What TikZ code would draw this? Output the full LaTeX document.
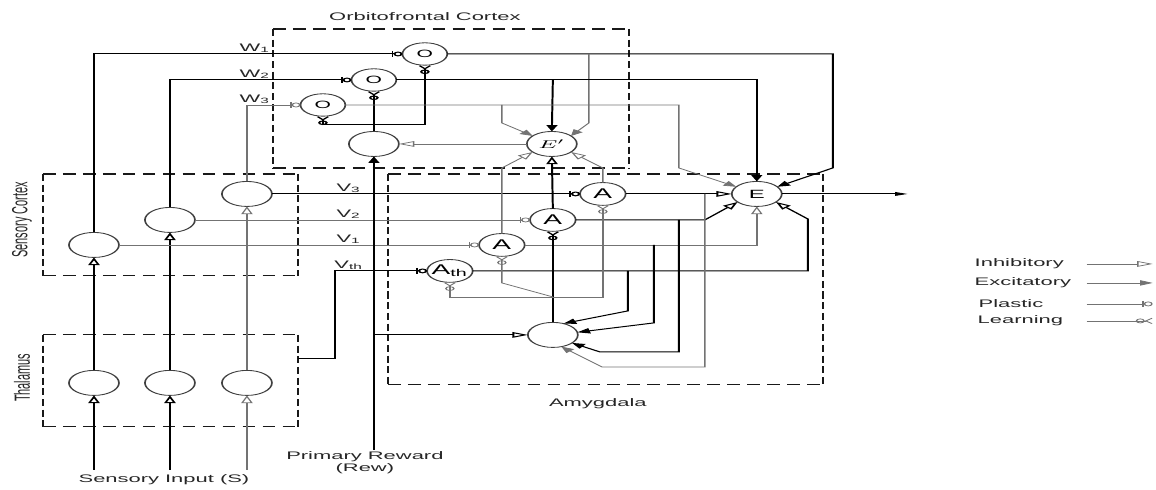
\documentclass[tikz,border=0pt]{standalone}
\usepackage{fontspec}
\setmainfont{Liberation Sans}
\usetikzlibrary{arrows.meta}
\begin{document}
\begin{tikzpicture}[every node/.style={inner sep=0pt, outer sep=0pt}]
\useasboundingbox (0,0) rectangle (28.9cm,-12.25cm);
\begin{scope}[x=0.0125cm, y=-0.025cm, transform canvas={xscale=2},
  neu/.style={circle, draw=black!75, line width=0.6pt, minimum size=0.625cm, inner sep=0pt},
  neuO/.style={neu, minimum size=0.56cm, font=\fontsize{7.5}{8}\selectfont},
  neuA/.style={neu, minimum size=0.57cm, font=\fontsize{10}{11}\selectfont},
  bk/.style={draw=black, line width=0.7pt},
  gy/.style={draw=black!55, line width=0.5pt},
  inh/.style={-{Triangle[open,length=5.5pt,width=4pt]}},
  exc/.style={-{Triangle[length=4.5pt,width=3.8pt]}},
  pla/.style={-{Bar[width=4.5pt]Circle[open,length=3.2pt,width=3.4pt]}},
  lrn/.style={-{Circle[open,length=3.2pt,width=3.4pt]Straight Barb[reversed,length=2.2pt,width=3.8pt]}},
  box/.style={draw=black!90, line width=0.8pt},
  hd/.style={dash pattern=on 4.5pt off 2.6pt},
  vd/.style={dash pattern=on 5pt off 2.6pt},
  lbl/.style={font=\fontsize{7.8}{8.6}\selectfont, text=black!85},
]
% boxes (horizontal and vertical edges dashed separately)
\draw[box,hd] (273,29) -- (629,29) (273,168) -- (629,168);
\draw[box,vd] (273,29) -- (273,168) (629,29) -- (629,168);
\draw[box,hd] (43,174) -- (298,174) (43,276) -- (298,276);
\draw[box,vd] (43,174) -- (43,276) (298,174) -- (298,276);
\draw[box,hd] (43,335) -- (298,335) (43,427) -- (298,427);
\draw[box,vd] (43,335) -- (43,427) (298,335) -- (298,427);
\draw[box,hd] (388,174) -- (823,174) (388,385) -- (823,385);
\draw[box,vd] (388,174) -- (388,385) (823,174) -- (823,385);
% titles
\node[lbl] (tofc) at (425,17) {Orbitofrontal Cortex};
\node[lbl, rotate=90] (tsc) at (22,220) {Sensory Cortex};
\node[lbl, rotate=90] (tth) at (22,378) {Thalamus};
\node[lbl] (tam) at (598,404) {Amygdala};
\node[lbl, align=center] (trew) at (365,463) {Primary Reward\\(Rew)};
\node[lbl] (tin) at (164,480) {Sensory Input (S)};
% neurons
\node[neuO] (O1) at (425,54) {O};
\node[neuO] (O2) at (374,80) {O};
\node[neuO] (O3) at (323,105) {O};
\node[neu] (ofc) at (374,144) {};
\node[neu, font=\fontsize{8.5}{9}\selectfont] (Ep) at (552,144) {$E'$};
\node[neu] (S1) at (94,245) {};
\node[neu] (S2) at (170,220) {};
\node[neu] (S3) at (247,194) {};
\node[neu] (T1) at (94,383) {};
\node[neu] (T2) at (170,383) {};
\node[neu] (T3) at (247,383) {};
\node[neuA] (A3) at (603,194) {A};
\node[neuA] (A2) at (553,220) {A};
\node[neuA] (A1) at (502,245) {A};
\node[neuA] (Ath) at (450,271) {A\textsubscript{th}};
\node[neu, font=\fontsize{8.5}{9}\selectfont] (E) at (757,194) {E};
\node[neu] (AB) at (553,335) {};
% labels
\node[lbl, anchor=south] (w1) at (255,53) {W\textsubscript{1}};
\node[lbl, anchor=south] (w2) at (255,79) {W\textsubscript{2}};
\node[lbl, anchor=south] (w3) at (255,104) {W\textsubscript{3}};
\node[lbl, anchor=south] (v3) at (349,193) {V\textsubscript{3}};
\node[lbl, anchor=south] (v2) at (349,219) {V\textsubscript{2}};
\node[lbl, anchor=south] (v1) at (349,244) {V\textsubscript{1}};
\node[lbl, anchor=south] (vth) at (349,270) {V\textsubscript{th}};
% coordinates
\coordinate (in1) at (94,470);
\coordinate (in2) at (170,470);
\coordinate (in3) at (247,470);
\coordinate (rew) at (374,450);
\coordinate (rb) at (374,335);
\coordinate (thout) at (298,359);
\coordinate (out) at (908,194);
\coordinate (jo) at (374,125);
\coordinate (jl) at (553,297);
% sensory pathways
\draw[bk,inh] (in1) -- (T1.south);
\draw[bk,inh] (in2) -- (T2.south);
\draw[gy,inh] (in3) -- (T3.south);
\draw[bk,inh] (T1.north) -- (S1.south);
\draw[bk,inh] (T2.north) -- (S2.south);
\draw[gy,inh] (T3.north) -- (S3.south);
\draw[bk,pla] (S1.north) |- (O1.west);
\draw[bk,pla] (S2.north) |- (O2.west);
\draw[gy,pla] (S3.north) |- (O3.west);
\draw[bk,pla] (S3.east) -- (A3.west);
\draw[gy,pla] (S2.east) -- (A2.west);
\draw[gy,pla] (S1.east) -- (A1.west);
\draw[bk,pla] (thout) -- ++(37,0) |- (Ath.west);
% reward
\draw[bk,exc] (rew) -- (ofc.south);
\draw[bk,inh] (rb) -- (AB.west);
% OFC
\draw[bk,lrn] (ofc.north) -- (O2.south);
\draw[bk,lrn] (jo) -| (O1.south);
\draw[bk,lrn] (jo) -| (O3.south);
\draw[gy,inh] (Ep.west) -- (ofc.east);
\draw[bk,exc] (O1.east) -| (833,168) -- (E.35);
\draw[gy,exc] (589,54) -- (589,123) -- (Ep.40);
\draw[bk,exc] (O2.east) -| (E.north);
\draw[bk,exc] (553,80) -- (Ep.north);
\draw[gy,exc] (O3.east) -| (679,168) -- (E.145);
\draw[gy,exc] (502,105) -- (502,123) -- (Ep.140);
% amygdala
\draw[gy,inh] (A3.north) -- (603,168) -- (Ep.-40);
\draw[bk,inh] (A2.north) -- (Ep.south);
\draw[gy,inh] (A1.north) -- (502,168) -- (Ep.-140);
\draw[bk,inh] (A3.east) -- (E.west);
\draw[bk,inh] (A2.east) -- (705,220) -- (E.-140);
\draw[gy,inh] (A1.east) -| (E.south);
\draw[bk,inh] (Ath.east) -| (808,219) -- (E.-40);
\draw[bk,-{Triangle[length=4.5pt,width=2.6pt]}] (E.east) -- (out);
\draw[bk,exc] (628,271) -- (628,311) -- (AB.65);
\draw[bk,exc] (654,245) -- (654,323) -- (AB.12);
\draw[bk,exc] (679,220) -- (679,352) -- (600,352) -- (AB.-40);
\draw[gy,exc] (705,194) -- (705,367) -- (602,367) -- (AB.-70);
\draw[bk,lrn] (AB.north) -- (A2.south);
\draw[gy,lrn] (jl) -- (502,283) -- (A1.south);
\draw[gy,lrn] (jl) -| (Ath.south);
\draw[gy,lrn] (jl) -| (A3.south);
% legend
\node[lbl, anchor=west] (l1) at (975,264) {Inhibitory};
\node[lbl, anchor=west] (l2) at (975,283) {Excitatory};
\node[lbl, anchor=west] (l3) at (979,304) {Plastic};
\node[lbl, anchor=west] (l4) at (978,321) {Learning};
\coordinate (l1a) at (1087,264); \coordinate (l1b) at (1153,264);
\coordinate (l2a) at (1087,283); \coordinate (l2b) at (1153,283);
\coordinate (l3a) at (1087,304); \coordinate (l3b) at (1153,304);
\coordinate (l4a) at (1087,321); \coordinate (l4b) at (1153,321);
\draw[gy,inh] (l1a) -- (l1b);
\draw[gy,exc] (l2a) -- (l2b);
\draw[gy,pla] (l3a) -- (l3b);
\draw[gy,lrn] (l4a) -- (l4b);
\end{scope}
\end{tikzpicture}
\end{document}
